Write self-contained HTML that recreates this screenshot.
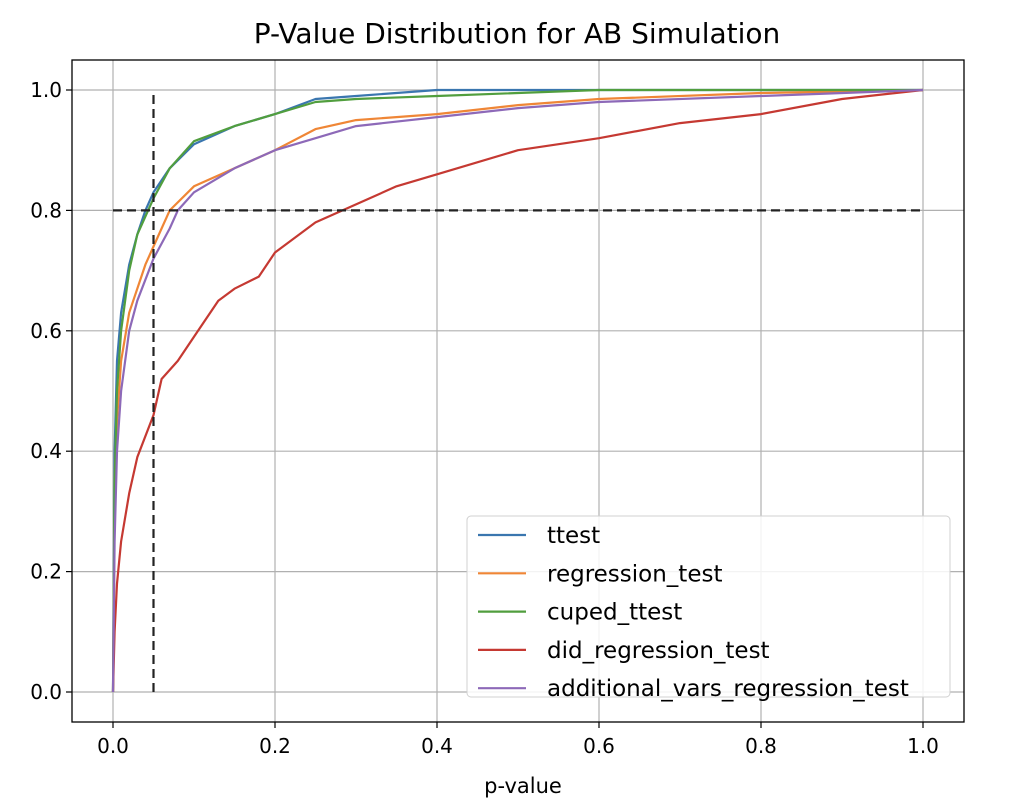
<!DOCTYPE html>
<html><head><meta charset="utf-8"><style>body{margin:0;background:#fff}svg{display:block;font-family:"DejaVu Sans","Liberation Sans",sans-serif}</style></head>
<body>
<svg id="chart" width="1020" height="800"></svg>
<script>
const xTicks=[0,0.2,0.4,0.6,0.8,1.0];
const yTicks=[0,0.2,0.4,0.6,0.8,1.0];
const seriesNames=["ttest","regression_test","cuped_ttest","did_regression_test","additional_vars_regression_test"];
const seriesColors=["#3a76af","#ef8636","#519e3e","#c53932","#8d69b8"];
const ttestX=[0,0.002,0.005,0.01,0.02,0.03,0.04,0.05,0.07,0.1,0.15,0.2,0.25,0.3,0.4,1];
const ttestY=[0,0.4,0.55,0.63,0.71,0.76,0.8,0.83,0.87,0.91,0.94,0.96,0.985,0.99,1,1];
const regX=[0,0.002,0.005,0.01,0.02,0.04,0.05,0.07,0.1,0.15,0.2,0.25,0.3,0.4,0.5,0.6,0.8,1];
const regY=[0,0.3,0.45,0.55,0.63,0.71,0.74,0.8,0.84,0.87,0.9,0.935,0.95,0.96,0.975,0.985,0.995,1];
const cupedX=[0,0.002,0.005,0.01,0.02,0.03,0.05,0.07,0.1,0.15,0.2,0.25,0.3,0.4,0.6,1];
const cupedY=[0,0.35,0.5,0.6,0.7,0.76,0.82,0.87,0.915,0.94,0.96,0.98,0.985,0.99,1,1];
const didX=[0,0.002,0.005,0.01,0.02,0.03,0.05,0.06,0.08,0.1,0.13,0.15,0.18,0.2,0.25,0.3,0.35,0.4,0.5,0.6,0.7,0.8,0.9,1];
const didY=[0,0.1,0.18,0.25,0.33,0.39,0.46,0.52,0.55,0.59,0.65,0.67,0.69,0.73,0.78,0.81,0.84,0.86,0.9,0.92,0.945,0.96,0.985,1];
const addX=[0,0.002,0.005,0.01,0.02,0.03,0.05,0.07,0.08,0.1,0.15,0.2,0.25,0.3,0.4,0.5,0.6,0.8,1];
const addY=[0,0.25,0.4,0.5,0.6,0.65,0.72,0.77,0.8,0.83,0.87,0.9,0.92,0.94,0.955,0.97,0.98,0.99,1];
const alphaLine=0.05, powerLine=0.8;

const svg=document.getElementById('chart');
const NS='http://www.w3.org/2000/svg';
const L=72,R=964,T=60,B=722;
const sx=v=>113+v*810, sy=v=>692-v*602;
function mk(tag,attrs,parent){const e=document.createElementNS(NS,tag);for(const k in attrs)e.setAttribute(k,attrs[k]);(parent||svg).appendChild(e);return e;}
let e;
e=mk('text',{x:517,y:43,'text-anchor':'middle','font-size':28,fill:'#000'});e.textContent='P-Value Distribution for AB Simulation';


xTicks.forEach(v=>{
 e=mk('line',{x1:sx(v),x2:sx(v),y1:T,y2:B,stroke:'#b0b0b0','stroke-width':1.2});
 
 
 mk('line',{x1:sx(v),x2:sx(v),y1:B,y2:B+6,stroke:'#000','stroke-width':1.2});
 e=mk('text',{x:sx(v),y:B+31,'text-anchor':'middle','font-size':20,fill:'#000'});e.textContent=v.toFixed(1);
 
 
});
yTicks.forEach(v=>{
 e=mk('line',{x1:L,x2:R,y1:sy(v),y2:sy(v),stroke:'#b0b0b0','stroke-width':1.2});
 
 
 mk('line',{x1:L-6,x2:L,y1:sy(v),y2:sy(v),stroke:'#000','stroke-width':1.2});
 e=mk('text',{x:L-10,y:sy(v)+7,'text-anchor':'end','font-size':20,fill:'#000'});e.textContent=v.toFixed(1);
 
 
});
e=mk('text',{x:523,y:793,'text-anchor':'middle','font-size':21,fill:'#000'});e.textContent='p-value';


const xs=[ttestX,regX,cupedX,didX,addX], ys=[ttestY,regY,cupedY,didY,addY];
xs.forEach((X,i)=>{
 const d=X.map((x,j)=>(j?'L':'M')+sx(x).toFixed(1)+','+sy(ys[i][j]).toFixed(1)).join(' ');
 e=mk('path',{d:d,fill:'none',stroke:seriesColors[i],'stroke-width':2.2,'stroke-linejoin':'round'});
 
 
});
e=mk('line',{x1:sx(alphaLine),x2:sx(alphaLine),y1:sy(0),y2:sy(1),stroke:'#222','stroke-width':2.2,'stroke-dasharray':'9,5'});


e=mk('line',{x1:sx(0),x2:sx(1),y1:sy(powerLine),y2:sy(powerLine),stroke:'#222','stroke-width':2.2,'stroke-dasharray':'9,5'});


e=mk('rect',{x:L,y:T,width:R-L,height:B-T,fill:'none',stroke:'#000','stroke-width':1.3});


const lg=mk('g',{});


mk('rect',{x:467,y:516,width:483,height:181,rx:4,fill:'#fff','fill-opacity':0.85,stroke:'#d0d0d0'},lg);
seriesNames.forEach((n,i)=>{
 const y=535+i*38.3;
 const g=mk('g',{},lg);
 
 
 mk('line',{x1:478,x2:526,y1:y,y2:y,stroke:seriesColors[i],'stroke-width':2.2},g);
 const t=mk('text',{x:547,y:y+8,'font-size':23,fill:'#000'},g);t.textContent=n;
});
</script>
</body></html>
